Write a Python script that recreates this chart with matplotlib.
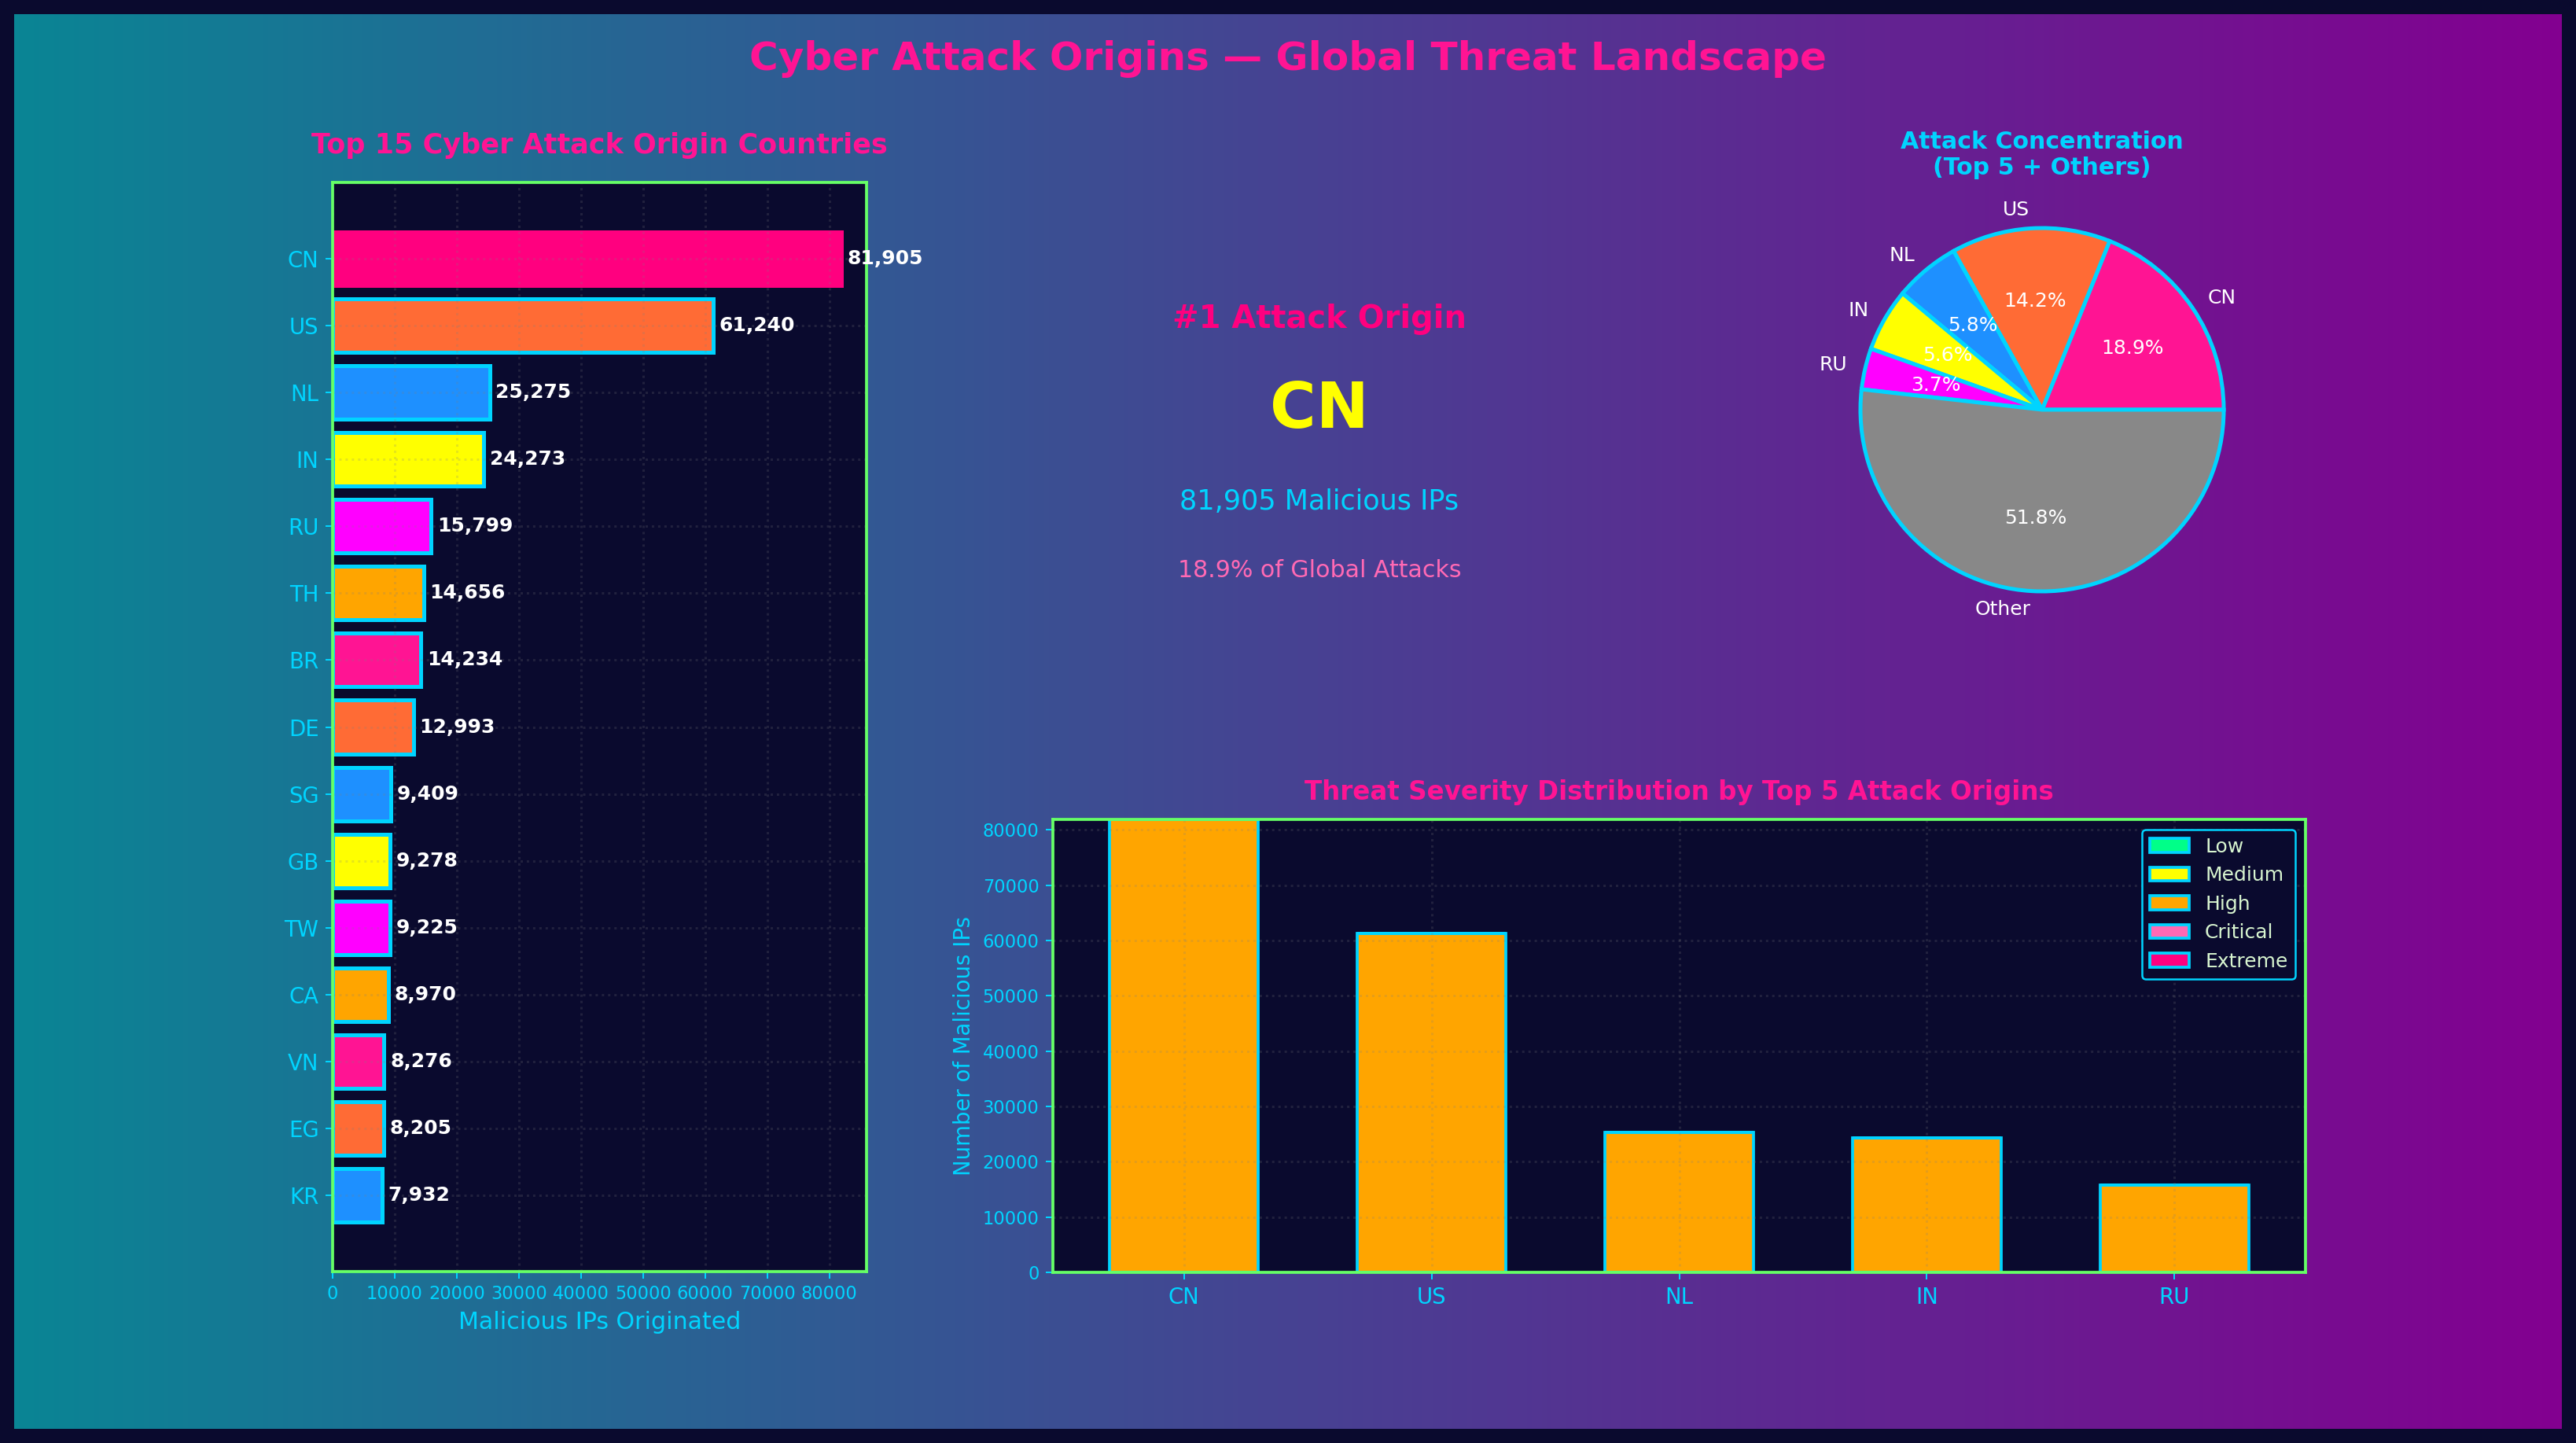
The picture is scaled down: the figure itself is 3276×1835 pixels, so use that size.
import numpy as np
import matplotlib
matplotlib.use("Agg")
import matplotlib.pyplot as plt

# ── data ─────────────────────────────────────────────────────────────────────
countries = ["CN", "US", "NL", "IN", "RU", "TH", "BR", "DE",
             "SG", "GB", "TW", "CA", "VN", "EG", "KR"]
ip_counts = [81905, 61240, 25275, 24273, 15799, 14656, 14234, 12993,
             9409, 9278, 9225, 8970, 8276, 8205, 7932]

pie_labels = ["CN", "US", "NL", "IN", "RU", "Other"]
pie_values = [81905, 61240, 25275, 24273, 15799, 224000]

top5 = ["CN", "US", "NL", "IN", "RU"]
severity_levels = ["Low", "Medium", "High", "Critical", "Extreme"]
sev_low = [0, 0, 0, 0, 0]
sev_medium = [0, 0, 0, 0, 0]
sev_high = [81905, 61240, 25275, 24273, 15799]
sev_critical = [0, 0, 0, 0, 0]
sev_extreme = [0, 0, 0, 0, 0]

# ── style ────────────────────────────────────────────────────────────────────
BG = "#0a0a2e"
CYAN = "#00D4FF"
PINK = "#FF1493"
SPINE = "#66FF66"
bar_cycle = ["#FF1493", "#FF6B35", "#1E90FF", "#FFFF00", "#FF00FF", "#FFA500"]
pie_colors = ["#FF1493", "#FF6B35", "#1E90FF", "#FFFF00", "#FF00FF", "#888888"]
sev_colors = ["#00FF88", "#FFFF00", "#FFA500", "#FF69B4", "#FF007F"]

W, H = 3276, 1835
DPI = 180
fig = plt.figure(figsize=(W / DPI, H / DPI), dpi=DPI, facecolor=BG)


def box(left, top, right, bottom):
    # pixel box (from top-left) -> figure fraction rect
    return [left / W, 1 - bottom / H, (right - left) / W, (bottom - top) / H]


# gradient background
bg_ax = fig.add_axes(box(18, 18, W - 18, H - 18), zorder=-10)
c0 = np.array([10, 133, 149]) / 255.0
c1 = np.array([131, 0, 144]) / 255.0
t = np.linspace(0, 1, 512)
grad = (c0[None, :] * (1 - t[:, None]) + c1[None, :] * t[:, None])[None, :, :]
bg_ax.imshow(grad, aspect="auto", extent=[0, 1, 0, 1])
bg_ax.axis("off")

fig.text(0.5, 1 - 75 / H, "Cyber Attack Origins \u2014 Global Threat Landscape",
         ha="center", va="center", fontsize=20, fontweight="bold", color=PINK)


def style_axes(ax):
    ax.set_facecolor(BG)
    for s in ax.spines.values():
        s.set_color(SPINE)
        s.set_linewidth(1.5)
    ax.tick_params(colors=CYAN, labelsize=9)
    ax.grid(True, linestyle=":", color="gray", alpha=0.2, linewidth=1.2)


# ── left: horizontal bars ────────────────────────────────────────────────────
ax1 = fig.add_axes(box(423, 232, 1102, 1617))
style_axes(ax1)
colors = [bar_cycle[i % len(bar_cycle)] for i in range(len(countries))]
colors[0] = "#FF007F"
edges = [CYAN] * len(countries)
edges[0] = "#FF007F"
ax1.barh(countries, ip_counts, height=0.8, color=colors,
         edgecolor=edges, linewidth=2)
ax1.invert_yaxis()
for i, v in enumerate(ip_counts):
    ax1.text(v + 1000, i, f"{v:,}", va="center", ha="left",
             color="white", fontsize=10, fontweight="bold")
ax1.tick_params(axis="y", labelsize=11)
ax1.set_xlabel("Malicious IPs Originated", color=CYAN, fontsize=12)
ax1.set_title("Top 15 Cyber Attack Origin Countries", color=PINK,
              fontsize=14, fontweight="bold", pad=15)

# ── centre: headline ─────────────────────────────────────────────────────────
share = pie_values[0] / sum(pie_values) * 100
cx = 1678 / W
fig.text(cx, 1 - 406 / H, "#1 Attack Origin", ha="center", va="center",
         fontsize=16, fontweight="bold", color="#FF007F")
fig.text(cx, 1 - 522 / H, countries[0], ha="center", va="center",
         fontsize=32, fontweight="bold", color="#FFFF00")
fig.text(cx, 1 - 638 / H, f"{ip_counts[0]:,} Malicious IPs", ha="center",
         va="center", fontsize=14, color=CYAN)
fig.text(cx, 1 - 725 / H, f"{share:.1f}% of Global Attacks", ha="center",
         va="center", fontsize=12, color="#FF69B4")

# ── right: pie ───────────────────────────────────────────────────────────────
r = 231
pcx, pcy = 2597, 521
ax2 = fig.add_axes(box(pcx - 1.25 * r, pcy - 1.25 * r, pcx + 1.25 * r, pcy + 1.25 * r))
ax2.pie(pie_values, labels=pie_labels, colors=pie_colors, autopct="%1.1f%%",
        wedgeprops=dict(edgecolor=CYAN, linewidth=2),
        textprops=dict(color="white", fontsize=10))
ax2.set_title("Attack Concentration\n(Top 5 + Others)", color=CYAN,
              fontsize=12, fontweight="bold", pad=4)

# ── bottom: stacked severity bars ────────────────────────────────────────────
ax3 = fig.add_axes(box(1339, 1042, 2932, 1618))
style_axes(ax3)
x = np.arange(len(top5))
bottom = np.zeros(len(top5))
for name, vals, col in zip(severity_levels,
                           [sev_low, sev_medium, sev_high, sev_critical, sev_extreme],
                           sev_colors):
    ax3.bar(x, vals, width=0.6, bottom=bottom, color=col, edgecolor=CYAN,
            linewidth=1.5, label=name)
    bottom += np.array(vals)
ax3.set_xticks(x)
ax3.set_xticklabels(top5)
ax3.tick_params(axis="x", labelsize=11)
ax3.set_ylim(0, max(bottom))
ax3.set_ylabel("Number of Malicious IPs", color=CYAN, fontsize=11)
ax3.set_title("Threat Severity Distribution by Top 5 Attack Origins",
              color=PINK, fontsize=13, fontweight="bold", pad=10)
leg = ax3.legend(loc="upper right", fontsize=10, facecolor=BG,
                 edgecolor=CYAN, framealpha=1, labelcolor="#d8f5d0")

fig.savefig("out.png", dpi=DPI, facecolor=BG)
